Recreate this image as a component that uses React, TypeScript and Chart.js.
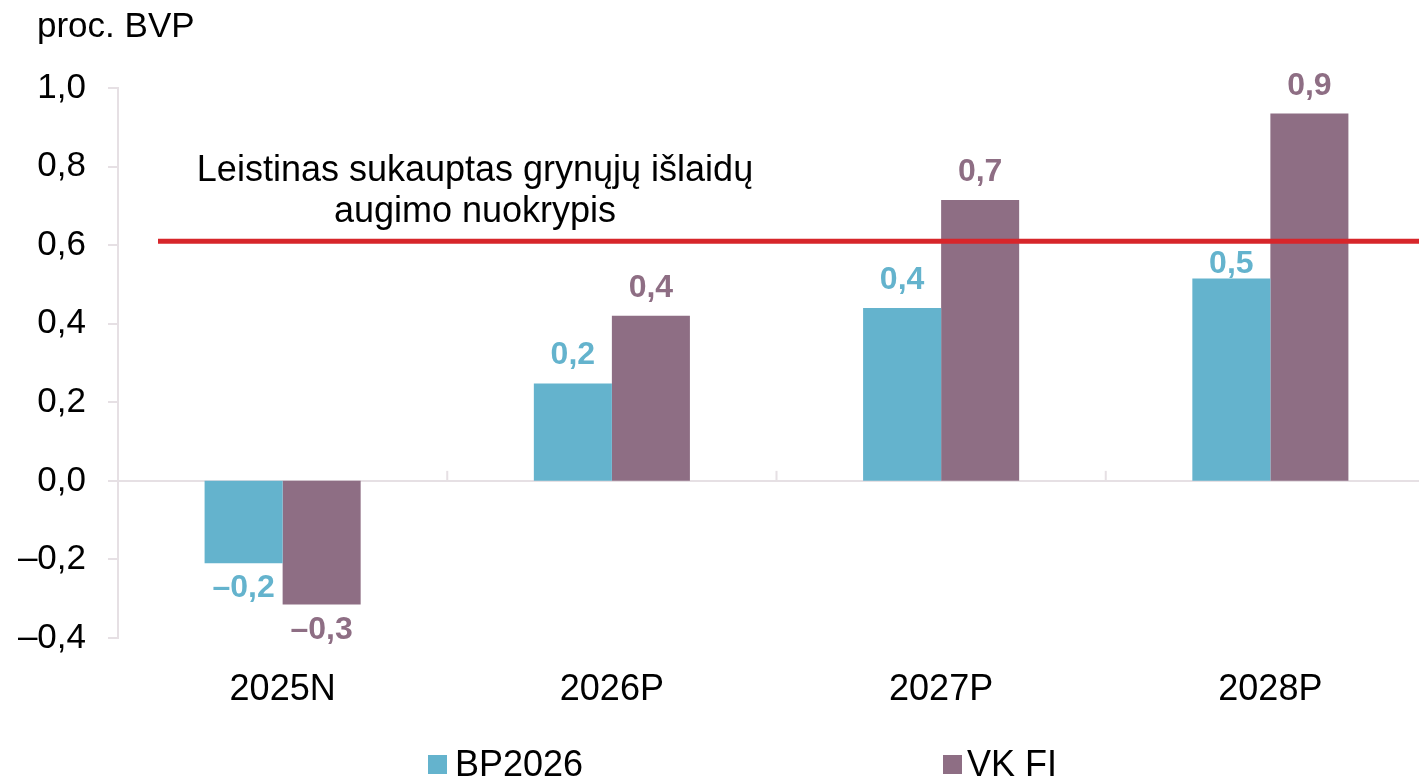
import React, { useEffect, useRef } from 'react';
import { Chart, registerables } from 'chart.js';

Chart.register(...registerables);

// ---- data ----
const CATEGORIES = ['2025N', '2026P', '2027P', '2028P'];
const SERIES_LABELS = ['BP2026', 'VK FI'];
const BP2026 = [-0.21, 0.248, 0.44, 0.515];
const VK_FI = [-0.315, 0.42, 0.715, 0.935];
const Y_MIN = -0.4;
const Y_MAX = 1.0;
const Y_STEP = 0.2;
const THRESHOLD = 0.61;
const UNIT_LABEL = 'proc. BVP';
const ANNOTATION_LINES = ['Leistinas sukauptas grynųjų išlaidų', 'augimo nuokrypis'];

// ---- styles ----
const FONT = '"Liberation Sans", Arial, Helvetica, sans-serif';
const BLUE = '#64b3cd';
const MAUVE = '#8e6e84';
const RED = '#d7262b';
const AXIS = '#e6e0e4';

const fmt = (v: number) => {
  const x = Math.abs(v) < 1e-9 ? 0 : v;
  return (x < 0 ? '–' : '') + Math.abs(x).toFixed(1).replace('.', ',');
};

const overlay = {
  id: 'overlay',
  beforeDatasetsDraw(chart: any) {
    const { ctx, scales } = chart;
    const xs = scales.x;
    const ys = scales.y;
    const zeroY = ys.getPixelForValue(0);
    ctx.save();
    ctx.fillStyle = AXIS;
    for (let i = 0; i < CATEGORIES.length - 1; i++) {
      const x = (xs.getPixelForValue(i) + xs.getPixelForValue(i + 1)) / 2;
      ctx.fillRect(x - 1, zeroY - 10, 2, 10);
    }
    ctx.restore();
  },
  afterDatasetsDraw(chart: any) {
    const { ctx, scales, chartArea } = chart;
    const ys = scales.y;
    ctx.save();

    // threshold line
    const ty = ys.getPixelForValue(THRESHOLD);
    ctx.strokeStyle = RED;
    ctx.lineWidth = 5;
    ctx.beginPath();
    ctx.moveTo(chartArea.left + 40, ty);
    ctx.lineTo(chart.width, ty);
    ctx.stroke();

    // annotation
    ctx.fillStyle = '#000';
    ctx.font = `36px ${FONT}`;
    ctx.textAlign = 'center';
    ctx.textBaseline = 'alphabetic';
    ctx.fillText(ANNOTATION_LINES[0], 475, 181);
    ctx.fillText(ANNOTATION_LINES[1], 475, 222);

    // unit label
    ctx.font = `35px ${FONT}`;
    ctx.textAlign = 'left';
    ctx.fillText(UNIT_LABEL, 37, 37);

    // data labels
    ctx.font = `bold 32px ${FONT}`;
    ctx.textAlign = 'center';
    chart.data.datasets.forEach((ds: any, di: number) => {
      const meta = chart.getDatasetMeta(di);
      ctx.fillStyle = ds.backgroundColor;
      meta.data.forEach((el: any, i: number) => {
        const v = ds.data[i];
        let center: number;
        if (v >= 0) {
          center = el.y - 30;
          if (el.y > ty && Math.abs(center - ty) < 20) center = ty + 21;
        } else {
          center = el.y + 23;
        }
        ctx.fillText(fmt(v), el.x, center + 11);
      });
    });

    // legend
    const items = [
      { x: 428, tx: 455, color: BLUE, label: chart.data.datasets[0].label },
      { x: 943, tx: 967, color: MAUVE, label: chart.data.datasets[1].label },
    ];
    ctx.font = `36px ${FONT}`;
    ctx.textAlign = 'left';
    items.forEach((it) => {
      ctx.fillStyle = it.color;
      ctx.fillRect(it.x, 755, 19, 19);
      ctx.fillStyle = '#000';
      ctx.fillText(it.label, it.tx, 776);
    });

    ctx.restore();
  },
};

export default function App() {
  const ref = useRef<HTMLCanvasElement>(null);
  useEffect(() => {
    const canvas = ref.current!;
    const chart = new Chart(canvas, {
      type: 'bar',
      data: {
        labels: CATEGORIES,
        datasets: [
          {
            label: SERIES_LABELS[0],
            data: BP2026,
            backgroundColor: BLUE,
            categoryPercentage: 0.474,
            barPercentage: 1,
          },
          {
            label: SERIES_LABELS[1],
            data: VK_FI,
            backgroundColor: MAUVE,
            categoryPercentage: 0.474,
            barPercentage: 1,
          },
        ],
      },
      options: {
        responsive: false,
        animation: false,
        devicePixelRatio: 1,
        layout: { padding: { top: 88, left: 0, right: 0, bottom: 0 } },
        plugins: {
          legend: { display: false },
          tooltip: { enabled: false },
          title: { display: false },
        },
        scales: {
          x: {
            grid: { display: false },
            border: { display: false },
            ticks: {
              font: { family: FONT, size: 36 },
              color: '#000',
              padding: 22,
              maxRotation: 0,
            },
            afterFit: (s: any) => {
              s.height = 143;
            },
          },
          y: {
            min: Y_MIN,
            max: Y_MAX,
            ticks: {
              stepSize: Y_STEP,
              font: { family: FONT, size: 35 },
              color: '#000',
              padding: 22,
              callback: (v: any) => fmt(Number(v)),
            },
            grid: {
              color: (c: any) =>
                c.tick && Math.abs(c.tick.value) < 1e-9 ? AXIS : 'rgba(0,0,0,0)',
              lineWidth: 2,
              tickLength: 10,
              tickColor: AXIS,
              tickWidth: 2,
            },
            border: { color: AXIS, width: 2 },
            afterFit: (s: any) => {
              s.width = 118;
            },
          },
        },
      },
      plugins: [overlay],
    } as any);
    return () => chart.destroy();
  }, []);

  return (
    <div
      style={{
        position: 'fixed',
        left: 0,
        top: 0,
        width: '100vw',
        height: 781,
        overflow: 'hidden',
        background: '#fff',
      }}
    >
      <canvas ref={ref} width={1435} height={781} style={{ display: 'block' }} />
    </div>
  );
}
